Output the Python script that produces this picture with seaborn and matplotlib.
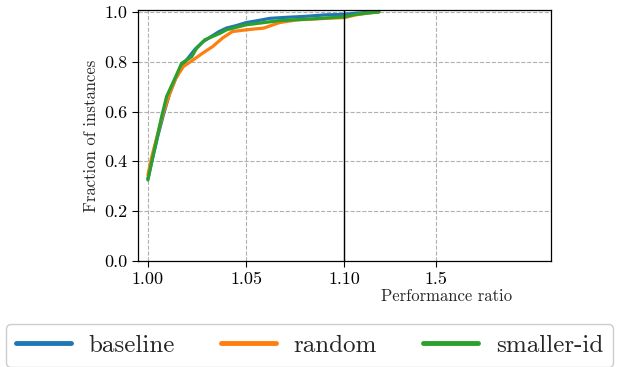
import numpy as np
import pandas as pd
import seaborn as sns
import matplotlib.pyplot as plt

# ---------- datos ----------
series_names = ["baseline", "random", "smaller-id"]

baseline_x = [1.000, 1.002, 1.005, 1.008, 1.011, 1.014, 1.017, 1.020, 1.024, 1.028,
              1.032, 1.036, 1.040, 1.045, 1.050, 1.056, 1.062, 1.070, 1.080, 1.090,
              1.100, 1.150, 1.200, 1.250]
baseline_y = [0.33, 0.40, 0.50, 0.59, 0.67, 0.73, 0.78, 0.81, 0.85, 0.88,
              0.90, 0.92, 0.935, 0.945, 0.957, 0.965, 0.974, 0.978, 0.982, 0.988,
              0.99, 0.995, 0.998, 1.0]

random_x = [1.000, 1.002, 1.005, 1.008, 1.011, 1.014, 1.018, 1.023, 1.028, 1.033,
            1.038, 1.043, 1.050, 1.059, 1.067, 1.076, 1.093, 1.100, 1.150, 1.200, 1.250]
random_y = [0.345, 0.42, 0.51, 0.60, 0.67, 0.73, 0.78, 0.807, 0.835, 0.861,
            0.895, 0.921, 0.928, 0.935, 0.957, 0.968, 0.975, 0.977, 0.988, 0.995, 1.0]

smaller_x = [1.000, 1.002, 1.0044, 1.007, 1.0095, 1.0138, 1.0172, 1.0223, 1.0248, 1.029,
             1.0367, 1.040, 1.050, 1.067, 1.084, 1.0995, 1.150, 1.200, 1.250]
smaller_y = [0.325, 0.40, 0.486, 0.58, 0.66, 0.734, 0.794, 0.82, 0.854, 0.888,
             0.914, 0.928, 0.948, 0.965, 0.972, 0.98, 0.99, 0.995, 1.0]

xticks = [1.00, 1.05, 1.10, 1.5]
xtick_labels = ["1.00", "1.05", "1.10", "1.5"]
yticks = [0.0, 0.2, 0.4, 0.6, 0.8, 1.0]

# ---------- escala partida: lineal hasta 1.10, comprimida después ----------
BREAK = 1.10
K = 0.117


def fwd(x):
    x = np.asarray(x, dtype=float)
    return np.where(x <= BREAK, x, BREAK + (x - BREAK) * K)


def inv(t):
    t = np.asarray(t, dtype=float)
    return np.where(t <= BREAK, t, BREAK + (t - BREAK) / K)


df = pd.concat([
    pd.DataFrame({"ratio": baseline_x, "frac": baseline_y, "method": "baseline"}),
    pd.DataFrame({"ratio": random_x, "frac": random_y, "method": "random"}),
    pd.DataFrame({"ratio": smaller_x, "frac": smaller_y, "method": "smaller-id"}),
], ignore_index=True)

sns.set_style("ticks")
plt.rcParams["font.family"] = ["cmr10", "DejaVu Serif"]
plt.rcParams["axes.formatter.use_mathtext"] = True

fig = plt.figure(figsize=(6.22, 3.67), dpi=100)
ax = fig.add_axes([0.222, 0.289, 0.664, 0.684])

palette = dict(zip(series_names, sns.color_palette("tab10", 3)))
sns.lineplot(data=df, x="ratio", y="frac", hue="method", hue_order=series_names,
             palette=palette, estimator=None, sort=False, linewidth=2.3,
             legend=False, ax=ax)
handles = list(ax.get_lines())[:3]

ax.set_xscale("function", functions=(fwd, inv))
ax.set_xlim(0.995, 2.0)
ax.set_ylim(0.0, 1.008)
ax.set_xticks(xticks)
ax.set_xticklabels(xtick_labels)
ax.set_yticks(yticks)
ax.set_yticklabels([f"{v:.1f}" for v in yticks])
ax.tick_params(labelsize=13, length=4, width=0.8, colors="black")
ax.grid(True, linestyle="--", color="#b0b0b0", linewidth=0.8)
ax.axvline(BREAK, color="black", linewidth=1.0)

for s in ax.spines.values():
    s.set_color("black")
    s.set_linewidth(0.9)

ax.set_xlabel("Performance ratio", fontsize=12)
ax.xaxis.set_label_coords(0.748, -0.11)
ax.set_ylabel("Fraction of instances", fontsize=12)
ax.yaxis.set_label_coords(-0.094, 0.5)

fig.legend(handles, series_names, loc="upper left",
           bbox_to_anchor=(6 / 622, 1 - 324 / 367), bbox_transform=fig.transFigure,
           ncol=3, fontsize=18, frameon=True, fancybox=True, borderaxespad=0,
           handlelength=2.2, handletextpad=0.7, columnspacing=1.85, borderpad=0.4,
           edgecolor="#cccccc", framealpha=1.0)
for h in fig.legends[0].get_lines():
    h.set_linewidth(3.5)

fig.savefig("out.png", dpi=100)
